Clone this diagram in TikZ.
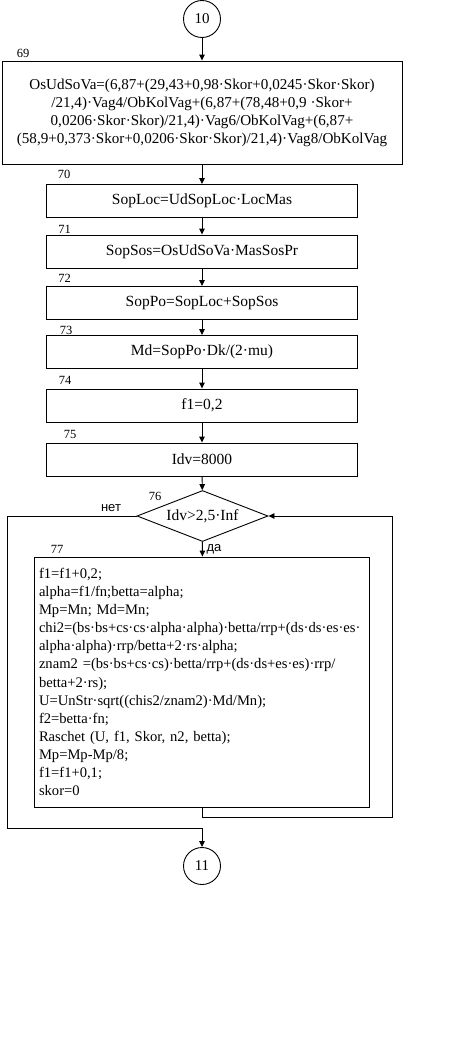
\documentclass[tikz,border=0pt]{standalone}
\usepackage{fontspec}
\setmainfont{Liberation Serif}
\newfontfamily\cyrsans{Liberation Sans}
\usetikzlibrary{arrows.meta,shapes.geometric,positioning,calc}
\tikzset{
  blk/.style={draw, line width=0.9pt, minimum width=311pt, minimum height=33pt, inner sep=2pt,
    font=\fontsize{15.5}{16.4}\selectfont},
  conn/.style={draw, circle, line width=0.9pt, minimum size=37pt, inner sep=0pt,
    font=\fontsize{15}{16}\selectfont},
  cond/.style={draw, diamond, aspect=2.57, minimum width=131pt, minimum height=51pt, inner sep=0pt,
    line width=0.9pt, font=\fontsize{15.5}{16}\selectfont},
  num/.style={inner sep=0pt, font=\fontsize{12.5}{13}\selectfont},
  ans/.style={inner sep=0pt, font=\cyrsans\fontsize{13}{13}\selectfont},
  flow/.style={line width=0.9pt, -{Triangle[length=6pt,width=5.5pt]}},
}

\begin{document}
\begin{tikzpicture}[x=1pt,y=-1pt]
\useasboundingbox (0,0) rectangle (476,1047);
\fill[white] (0,0) rectangle (476,1047);

% connectors and the long first block
\node[conn] (c10) at (202,19) {10};
\node[blk, minimum width=400pt, minimum height=103pt, align=center, font=\fontsize{15.1}{18}\selectfont]
  (b69) at (202,112.5) {OsUdSoVa=(6,87+(29,43+0,98·Skor+0,0245·Skor·Skor)\\
  /21,4)·Vag4/ObKolVag+(6,87+(78,48+0,9 ·Skor+\\
  0,0206·Skor·Skor)/21,4)·Vag6/ObKolVag+(6,87+\\
  (58,9+0,373·Skor+0,0206·Skor·Skor)/21,4)·Vag8/ObKolVag};
\node[num] at (23,53) {69};

% simple blocks 70--75
\node[blk] (b70) at (202,201) {SopLoc=UdSopLoc·LocMas};
\node[blk] (b71) at (202,251.5) {SopSos=OsUdSoVa·MasSosPr};
\node[blk] (b72) at (202,303) {SopPo=SopLoc+SopSos};
\node[blk] (b73) at (202,352) {Md=SopPo·Dk/(2·mu)};
\node[blk] (b74) at (202,405.5) {f1=0,2};
\node[blk] (b75) at (202,459.5) {Idv=8000};
\node[num] at (64,174) {70};
\node[num] at (64.5,229) {71};
\node[num] at (64.5,278) {72};
\node[num] at (66,330) {73};
\node[num] at (65,380) {74};
\node[num] at (70,434) {75};

% loop condition and body
\node[cond] (d76) at (202.5,516) {Idv>2,5·Inf};
\node[num] at (155,496) {76};
\node[ans] at (111,508) {нет};
\node[ans] at (214,549) {да};
\node[blk, minimum width=335pt, minimum height=250pt, text width=326pt, align=left, inner xsep=4.5pt,
  font=\fontsize{14.6}{18.1}\selectfont] (b77) at (202,682) {f1=f1+0,2;\\
  alpha=f1/fn;betta=alpha;\\
  Mp=Mn; Md=Mn;\\
  chi2=(bs·bs+cs·cs·alpha·alpha)·betta/rrp+(ds·ds·es·es·\\
  alpha·alpha)·rrp/betta+2·rs·alpha;\\
  znam2 =(bs·bs+cs·cs)·betta/rrp+(ds·ds+es·es)·rrp/\\
  betta+2·rs);\\
  U=UnStr·sqrt((chis2/znam2)·Md/Mn);\\
  f2=betta·fn;\\
  Raschet (U, f1, Skor, n2, betta);\\
  Mp=Mp-Mp/8;\\
  f1=f1+0,1;\\
  skor=0};
\node[num] at (57,549) {77};
\node[conn] (c11) at (202,866) {11};

\coordinate (lp) at (7.3,828);
\coordinate (rp) at (392,817);

% arrows
\draw[flow] (c10) -- (b69);
\draw[flow] (b69) -- (b70);
\draw[flow] (b70) -- (b71);
\draw[flow] (b71) -- (b72);
\draw[flow] (b72) -- (b73);
\draw[flow] (b73) -- (b74);
\draw[flow] (b74) -- (b75);
\draw[flow] (b75) -- (d76);
\draw[flow] (d76) -- (b77);
\draw[flow] (b77.south) |- (rp) |- (d76.east);
\draw[flow] (d76.west) -| (lp) -| (c11.north);
\end{tikzpicture}
\end{document}
